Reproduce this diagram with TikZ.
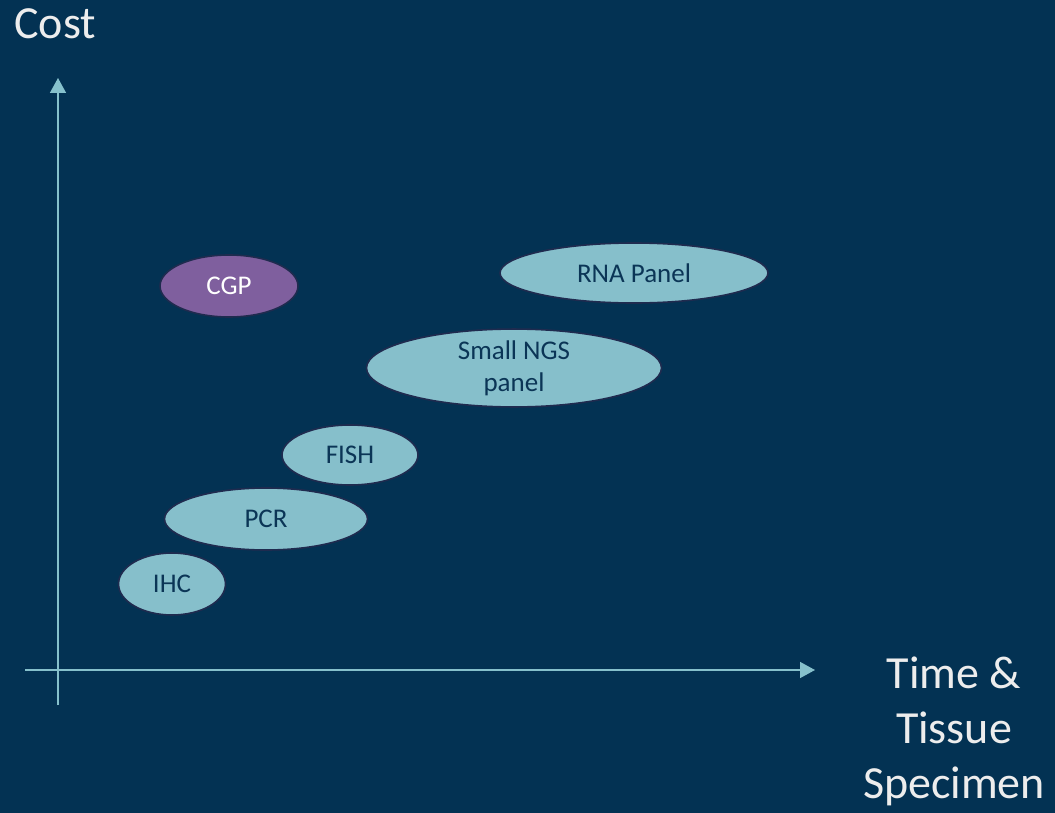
\documentclass[tikz,border=0pt]{standalone}
\usepackage{fontspec}
\setmainfont{Carlito}
\usetikzlibrary{shapes.geometric,arrows.meta,positioning}
\definecolor{slidebg}{HTML}{033253}
\definecolor{axisline}{HTML}{86C1CC}
\definecolor{ovalfill}{HTML}{86BFCB}
\definecolor{cgpfill}{HTML}{7F5F9E}
\definecolor{ovalring}{HTML}{1F2B4F}
\definecolor{ovaltext}{HTML}{0B3556}
\definecolor{axistext}{HTML}{EDEDED}
\tikzset{
  % Ovals for the tests
  test oval/.style = {ellipse, draw=ovalring, line width=0.8pt,
      fill=ovalfill, text=ovaltext, inner sep=0pt, align=center,
      font=\fontsize{13.5}{16}\selectfont},
  cgp oval/.style  = {test oval, fill=cgpfill, text=white},
  % Axes
  axis line/.style  = {axisline, line width=0.75pt,
      -{Triangle[width=8pt,length=7.5pt]}},
  axis label/.style = {text=axistext, inner sep=0pt,
      font=\fontsize{23}{27.5}\selectfont},
}
% oval: [style] (name) <width,height> {text} at (centre);  sizes in px
\def\oval[#1] (#2) <#3,#4> #5 at (#6);{
    \node[#1, minimum width=#3*0.5pt, minimum height=#4*0.5pt] (#2) at (#6) {#5};
}

\begin{document}
\begin{tikzpicture}[x=0.5pt,y=-0.5pt]

\fill[slidebg] (0,0) rectangle (1055,813);
\useasboundingbox (0,0) rectangle (1055,813);

%---------------------------------------------
\coordinate (ybase) at (58,705);
\coordinate (ytip)  at (58,78);
\coordinate (xbase) at (25,670);
\coordinate (xtip)  at (815,670);
\draw[axis line] (ybase) -- (ytip);
\draw[axis line] (xbase) -- (xtip);

\node[axis label, anchor=base west] (cost) at (14,39) {Cost};
\node[axis label, align=center] (time) at (954,731) {Time \&\\Tissue\\Specimen};

%---------------------------------------------
\oval[cgp oval]  (cgp)  <138,62> {CGP}              at (229,286);
\oval[test oval] (rna)  <268,60> {RNA Panel}        at (634,273);
\oval[test oval] (ngs)  <295,60> {Small NGS\\panel} at (514,368);
\oval[test oval] (fish) <136,60> {FISH}             at (350,455);
\oval[test oval] (pcr)  <203,62> {PCR}              at (266,519);
\oval[test oval] (ihc)  <107,62> {IHC}              at (172,584);

\end{tikzpicture}
\end{document}
